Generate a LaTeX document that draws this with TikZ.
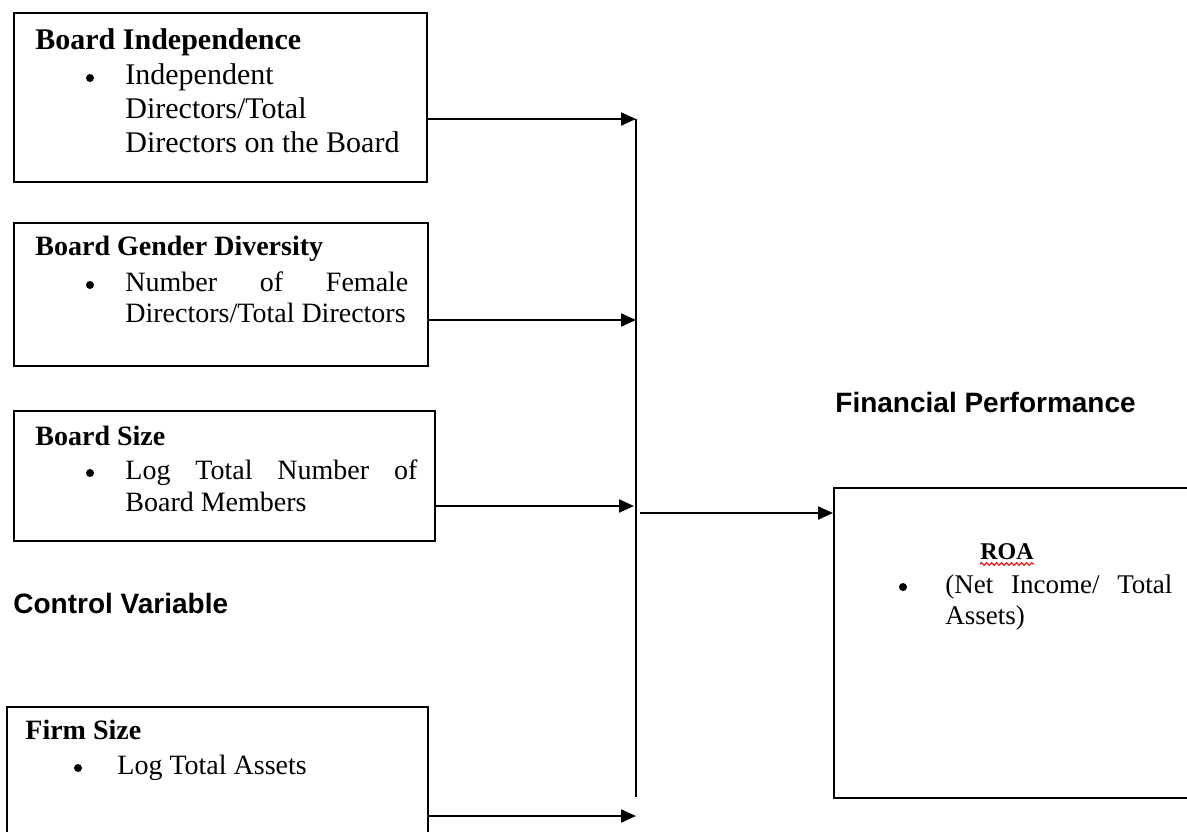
\documentclass[tikz,border=0pt]{standalone}
\usepackage{fontspec}
\setmainfont{Liberation Serif}
\setsansfont{Liberation Sans}
\usetikzlibrary{arrows.meta,decorations.pathmorphing}

\tikzset{
  box/.style={draw, line width=1.1pt, anchor=north west, inner sep=0pt},
  hd/.style={anchor=base west, inner sep=0pt, font=\bfseries\fontsize{14}{17}\selectfont},
  txt/.style={anchor=base west, inner sep=0pt, font=\fontsize{14}{17}\selectfont},
  bul/.style={circle, fill, inner sep=0pt, minimum size=4pt},
  lbl/.style={anchor=base west, inner sep=0pt, font=\sffamily\bfseries\fontsize{14}{17}\selectfont},
  arr/.style={line width=1.1pt, -{Triangle[length=7.5pt,width=6.5pt]}},
}

\begin{document}
\begin{tikzpicture}[x=0.5pt,y=-0.5pt]
                \clip (0,0) rectangle (1187,831);

                % boxes
                \node[box, minimum width=206.5pt, minimum height=84.5pt] (bi) at (13,12) {};
                \node[box, minimum width=207pt, minimum height=71.5pt] (bg) at (13,222) {};
                \node[box, minimum width=210.5pt, minimum height=65pt] (bs) at (13,410) {};
                \node[box, minimum width=210.5pt, minimum height=70pt] (fs) at (6,706) {};
                \node[box, minimum width=185pt, minimum height=155pt] (roa) at (833,487) {};

                % board independence
                \node[hd, font=\bfseries\fontsize{15}{18}\selectfont] (bi0) at (35,49) {Board Independence};
                \node[bul] (bid) at (90,78) {};
                \node[txt, font=\fontsize{15}{18}\selectfont] (bi1) at (125,84) {Independent};
                \node[txt, font=\fontsize{15}{18}\selectfont] (bi2) at (125,118) {Directors/Total};
                \node[txt, font=\fontsize{15}{18}\selectfont] (bi3) at (125,152) {Directors on the Board};

                % board gender diversity
                \node[hd] (bg0) at (35,255) {Board Gender Diversity};
                \node[bul] (bgd) at (90,285) {};
                \node[txt] (bg1) at (125,291) {\makebox[141.5pt]{Number\hfill of\hfill Female}};
                \node[txt] (bg2) at (125,322) {Directors/Total Directors};

                % board size
                \node[hd] (bs0) at (35,445) {Board Size};
                \node[bul] (bsd) at (90,473) {};
                \node[txt] (bs1) at (125,479) {\makebox[146pt]{Log\hfill Total\hfill Number\hfill of}};
                \node[txt] (bs2) at (125,511) {Board Members};

                % firm size
                \node[hd] (fs0) at (25,739) {Firm Size};
                \node[bul] (fsd) at (78,768) {};
                \node[txt] (fs1) at (117,774) {Log Total Assets};

                % roa
                \node[hd, font=\bfseries\fontsize{12}{14}\selectfont] (rt) at (980,559) {ROA};
                \draw[red, line width=0.5pt, decorate, decoration={snake, amplitude=0.7pt, segment length=2.5pt}]
                        ([yshift=-2.5pt]rt.base west) -- ([yshift=-2.5pt]rt.base east);
                \node[bul] (rd) at (903,587) {};
                \node[txt, font=\fontsize{13.5}{16}\selectfont] (r1) at (945,593) {\makebox[113.5pt]{(Net\hfill Income/\hfill Total}};
                \node[txt, font=\fontsize{13.5}{16}\selectfont] (r2) at (945,624) {Assets)};

                % headings
                \node[lbl] (fp) at (835,412) {Financial Performance};
                \node[lbl] (cv) at (13,613) {Control Variable};

                % connectors
                \coordinate (top) at (636,119);
                \coordinate (bot) at (636,797);
                \coordinate (j1) at (636,119);
                \coordinate (j2) at (636,320);
                \coordinate (j3) at (634,506);
                \coordinate (j4) at (636,816);
                \coordinate (out) at (640,513);
                \draw[line width=1.1pt] (top) -- (bot);
                \draw[arr] (bi.east |- j1) -- (j1);
                \draw[arr] (bg.east |- j2) -- (j2);
                \draw[arr] (bs.east |- j3) -- (j3);
                \draw[arr] (fs.east |- j4) -- (j4);
                \draw[arr] (out) -- (roa.west |- out);
            \end{tikzpicture}
\end{document}
